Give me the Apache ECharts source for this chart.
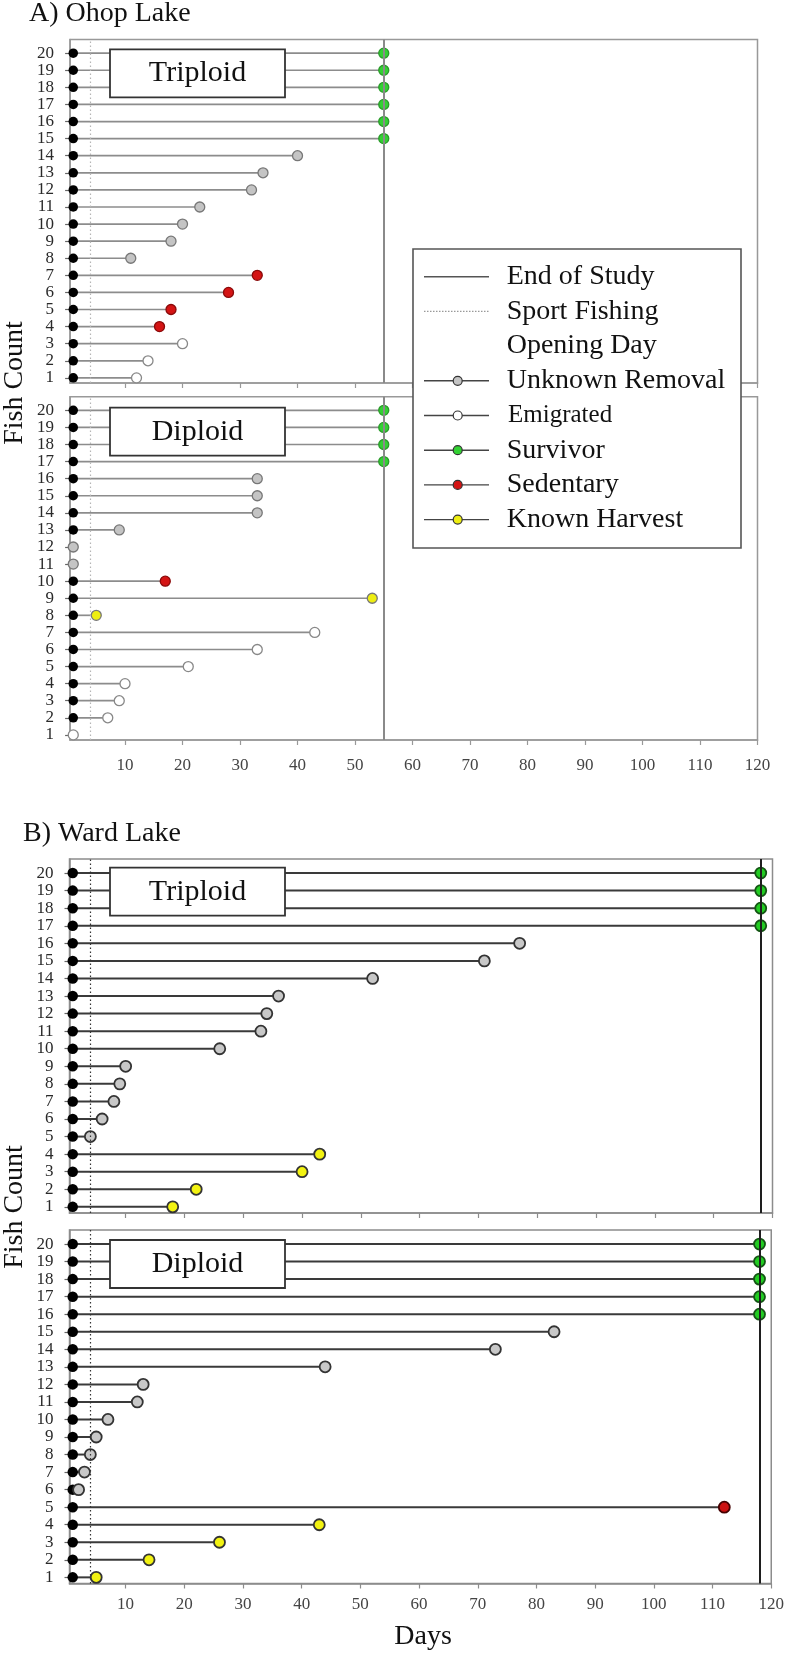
<!DOCTYPE html>
<html>
<head>
<meta charset="utf-8">
<script src="https://cdn.jsdelivr.net/npm/echarts@6/dist/echarts.min.js"></script>
<style>
html,body{margin:0;padding:0;background:#fff;}
#chart{width:787px;height:1653px;}
</style>
</head>
<body>
<div id="chart"></div>
<script>
// ---------- data ----------
const fishIds = [1,2,3,4,5,6,7,8,9,10,11,12,13,14,15,16,17,18,19,20];
const dayTicks = [10,20,30,40,50,60,70,80,90,100,110,120];
const startDay = 1;
const openingDay = 4;
const ohopEndDay = 55;
const wardEndDay = 118;

// fate codes: U = Unknown Removal, E = Emigrated, S = Survivor, D = Sedentary, H = Known Harvest
const ohopTriploidDays = [12,14,20,16,18,28,33,11,18,20,23,32,34,40,55,55,55,55,55,55];
const ohopTriploidFate = ['E','E','E','D','D','D','D','U','U','U','U','U','U','U','S','S','S','S','S','S'];

const ohopDiploidDays = [1,7,9,10,21,33,43,5,53,17,1,1,9,33,33,33,55,55,55,55];
const ohopDiploidFate = ['E','E','E','E','E','E','E','H','H','D','U','U','U','U','U','U','S','S','S','S'];

const wardTriploidDays = [18,22,40,43,4,6,8,9,10,26,33,34,36,52,71,77,118,118,118,118];
const wardTriploidFate = ['H','H','H','H','U','U','U','U','U','U','U','U','U','U','U','U','S','S','S','S'];

const wardDiploidDays = [5,14,26,43,112,2,3,4,5,7,12,13,44,73,83,118,118,118,118,118];
const wardDiploidFate = ['H','H','H','H','D','U','U','U','U','U','U','U','U','U','U','S','S','S','S','S'];

const fateOrder = ['U','E','S','D','H'];
const fateNames = {U:'Unknown Removal', E:'Emigrated', S:'Survivor', D:'Sedentary', H:'Known Harvest'};
const legendTexts = ['End of Study','Sport Fishing','Opening Day','Unknown Removal','Emigrated','Survivor','Sedentary','Known Harvest'];
const legendKinds = ['solid','dotted','none','U','E','S','D','H'];

// ---------- styles ----------
const FONT = "'Liberation Serif','Times New Roman',serif";
const lakeStyle = {
  A: {seg:'#8c8c8c', segW:1.7, frame:'#999999', endLine:'#8a8a8a', endW:2, dot:'#b5b5b5', dotW:1.2, mBorderW:1.3, msize:10, startSize:9.5,
      fill:{U:'#c4c4c4', E:'#ffffff', S:'#33d133', D:'#d41414', H:'#eeee11'},
      border:{U:'#777', E:'#888', S:'#2a9a2a', D:'#8a0a0a', H:'#777'}},
  B: {seg:'#3a3a3a', segW:2, frame:'#8c8c8c', endLine:'#1e1e1e', endW:2, dot:'#333333', dotW:1.2, mBorderW:1.8, msize:11, startSize:10.5,
      fill:{U:'#c8c8c8', E:'#ffffff', S:'#22cc22', D:'#cc1111', H:'#f2f211'},
      border:{U:'#333', E:'#333', S:'#145514', D:'#440000', H:'#333'}}
};

const panels = [
  {lake:'A', label:'Triploid', days:ohopTriploidDays, fate:ohopTriploidFate, end:ohopEndDay, showX:false,
   grid:{left:70.1, top:39.5, width:687.4, height:343.5}, yMin:0.7, yMax:20.8, xMargin:17},
  {lake:'A', label:'Diploid', days:ohopDiploidDays, fate:ohopDiploidFate, end:ohopEndDay, showX:true,
   grid:{left:70.1, top:396.7, width:687.4, height:343.3}, yMin:0.7, yMax:20.8, xMargin:17},
  {lake:'B', label:'Triploid', days:wardTriploidDays, fate:wardTriploidFate, end:wardEndDay, showX:false,
   grid:{left:69.5, top:859, width:703, height:354}, yMin:0.65, yMax:20.8, xMargin:13},
  {lake:'B', label:'Diploid', days:wardDiploidDays, fate:wardDiploidFate, end:wardEndDay, showX:true,
   grid:{left:69.5, top:1230, width:703, height:353.5}, yMin:0.65, yMax:20.8, xMargin:13}
];

// ---------- build option ----------
const grids = [], xAxes = [], yAxes = [], series = [];
panels.forEach((p, i) => {
  const st = lakeStyle[p.lake];
  grids.push(Object.assign({show:true, borderColor:st.frame, borderWidth:1.5, backgroundColor:'transparent', containLabel:false}, p.grid));
  xAxes.push({
    type:'value', gridIndex:i, min:0.45, max:120,
    axisLine:{show:true, onZero:false, lineStyle:{color:st.frame, width:1.5}},
    axisTick:{show:true, length:5, inside:false, customValues:dayTicks, lineStyle:{color:st.frame, width:1.2}},
    axisLabel:{show:p.showX, customValues:dayTicks, margin:p.xMargin, color:'#444', fontFamily:FONT, fontSize:17},
    splitLine:{show:false}
  });
  yAxes.push({
    type:'value', gridIndex:i, min:p.yMin, max:p.yMax,
    axisLine:{show:true, onZero:false, lineStyle:{color:st.frame, width:1.5}},
    axisTick:{show:true, length:5, inside:false, customValues:fishIds, lineStyle:{color:'#666', width:1.2}},
    axisLabel:{show:true, customValues:fishIds, margin:16, color:'#2a2a2a', fontFamily:FONT, fontSize:17},
    splitLine:{show:false}
  });
  // reference lines: end of study and sport-fishing opening day
  series.push({
    type:'line', xAxisIndex:i, yAxisIndex:i, data:[], z:1, silent:true, animation:false,
    markLine:{
      symbol:['none','none'], silent:true, animation:false, label:{show:false},
      data:[
        {xAxis:p.end, lineStyle:{color:st.endLine, width:st.endW, type:'solid'}},
        {xAxis:openingDay, lineStyle:{color:st.dot, width:st.dotW, type:[1.5,2.5]}}
      ]
    }
  });
  // segments
  series.push({
    type:'custom', xAxisIndex:i, yAxisIndex:i, z:2, animation:false, silent:true,
    encode:{x:[0,1], y:2},
    data: fishIds.map((f, k) => [startDay, p.days[k], f]),
    renderItem: (params, api) => {
      const a = api.coord([api.value(0), api.value(2)]);
      const b = api.coord([api.value(1), api.value(2)]);
      return {type:'line', shape:{x1:a[0], y1:a[1], x2:b[0], y2:b[1]}, style:{stroke:st.seg, lineWidth:st.segW}};
    }
  });
  // start dots
  series.push({
    type:'scatter', xAxisIndex:i, yAxisIndex:i, z:3, animation:false, silent:true,
    symbol:'circle', symbolSize:st.startSize,
    itemStyle:{color:'#000000', opacity:1},
    data: fishIds.map(f => [startDay, f])
  });
  // end markers by fate
  fateOrder.forEach(code => {
    const pts = [];
    fishIds.forEach((f, k) => { if (p.fate[k] === code) pts.push([p.days[k], f]); });
    if (!pts.length) return;
    series.push({
      name: fateNames[code],
      type:'scatter', xAxisIndex:i, yAxisIndex:i, z:4, animation:false, silent:true,
      symbol:'circle', symbolSize:st.msize,
      itemStyle:{color:st.fill[code], borderColor:st.border[code], borderWidth:st.mBorderW, opacity:1},
      data: pts
    });
  });
});

// ---------- annotations ----------
const graphics = [];
function txt(x, y, text, size, opts) {
  return Object.assign({type:'text', x:x, y:y, z:100, silent:true,
    style:{text:text, fill:'#111', font:size + 'px ' + FONT, align:'left', verticalAlign:'middle'}}, opts || {});
}
graphics.push(txt(29, 14, 'A) Ohop Lake', 28));
graphics.push(txt(23, 834, 'B) Ward Lake', 28));
graphics.push({type:'text', x:15, y:383, rotation:Math.PI/2, z:100, silent:true,
  style:{text:'Fish Count', fill:'#111', font:'28px ' + FONT, align:'center', verticalAlign:'middle'}});
graphics.push({type:'text', x:15, y:1207, rotation:Math.PI/2, z:100, silent:true,
  style:{text:'Fish Count', fill:'#111', font:'28px ' + FONT, align:'center', verticalAlign:'middle'}});
graphics.push({type:'text', x:423, y:1637, z:100, silent:true,
  style:{text:'Days', fill:'#111', font:'28px ' + FONT, align:'center', verticalAlign:'middle'}});

// label boxes
const boxTops = [49.3, 407.7, 867.7, 1240];
panels.forEach((p, i) => {
  graphics.push({type:'rect', z:90, silent:true, shape:{x:110, y:boxTops[i], width:175, height:48},
    style:{fill:'#fff', stroke:'#333', lineWidth:1.8}});
  graphics.push({type:'text', x:197.5, y:boxTops[i] + 24, z:91, silent:true,
    style:{text:p.label, fill:'#111', font:'30px ' + FONT, align:'center', verticalAlign:'middle'}});
});

// legend box (panel A)
const LA = lakeStyle.A;
graphics.push({type:'rect', z:95, silent:true, shape:{x:413, y:249, width:328, height:299},
  style:{fill:'#fff', stroke:'#555', lineWidth:1.6}});
legendTexts.forEach((t, k) => {
  const y = 276.7 + k * 34.7;
  const kind = legendKinds[k];
  if (kind === 'solid') {
    graphics.push({type:'line', z:96, silent:true, shape:{x1:424, y1:y, x2:489, y2:y}, style:{stroke:'#555', lineWidth:1.6}});
  } else if (kind === 'dotted') {
    graphics.push({type:'line', z:96, silent:true, shape:{x1:424, y1:y, x2:489, y2:y}, style:{stroke:'#999', lineWidth:1.2, lineDash:[1.5,1.5]}});
  } else if (kind !== 'none') {
    graphics.push({type:'line', z:96, silent:true, shape:{x1:424, y1:y, x2:489, y2:y}, style:{stroke:'#444', lineWidth:1.4}});
    graphics.push({type:'circle', z:97, silent:true, shape:{cx:457.7, cy:y, r:4.5},
      style:{fill:LA.fill[kind], stroke:'#333', lineWidth:1.2}});
  }
  graphics.push(txt(kind === 'E' ? 508 : 506.7, y, t, kind === 'E' ? 25 : 28, {z:98}));
});

const chart = echarts.init(document.getElementById('chart'), null, {renderer:'canvas'});
chart.setOption({
  backgroundColor:'#ffffff',
  animation:false,
  grid:grids, xAxis:xAxes, yAxis:yAxes, series:series,
  graphic:graphics
});
</script>
</body>
</html>
